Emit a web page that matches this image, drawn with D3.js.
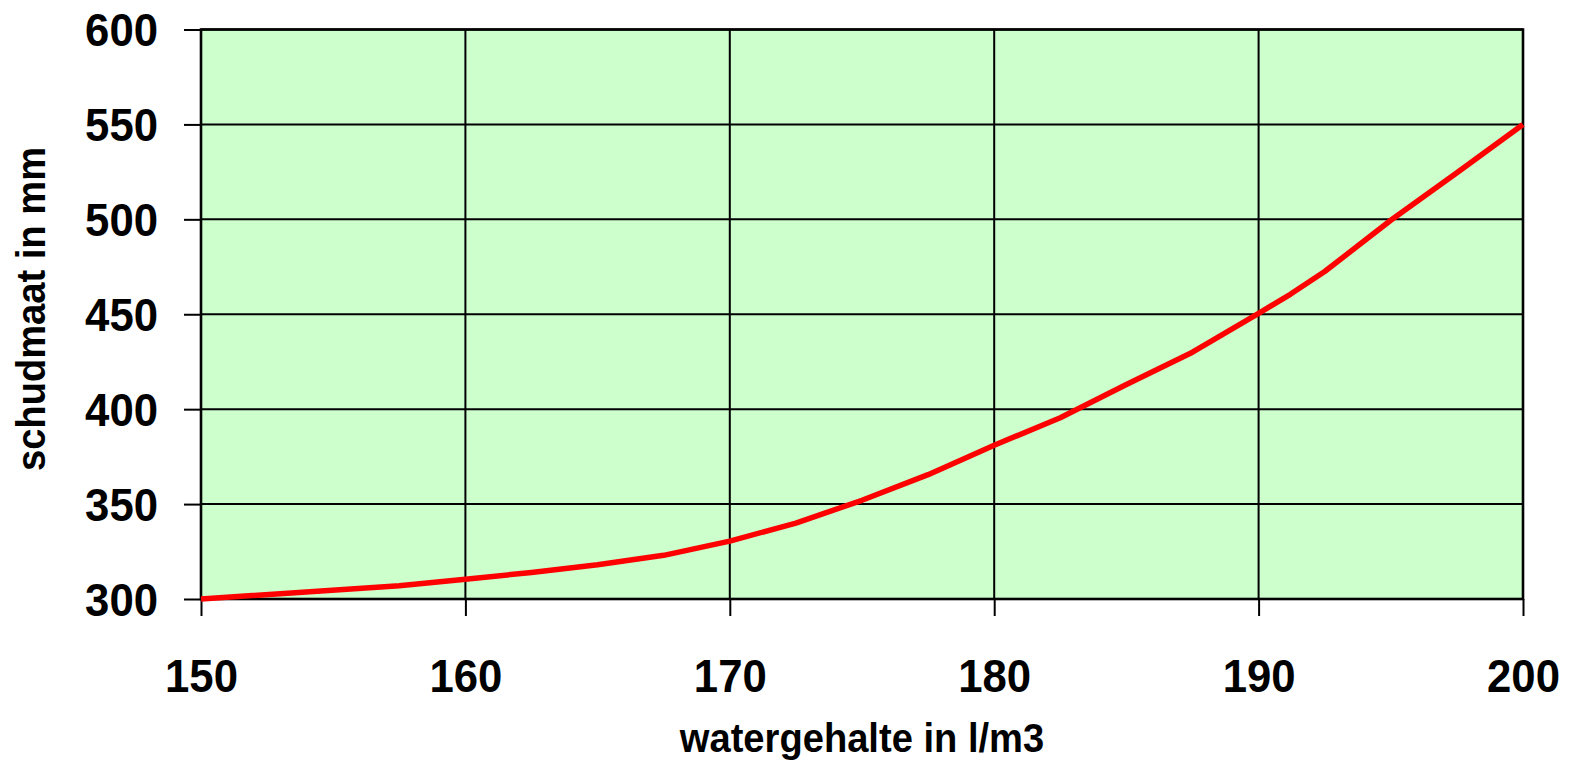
<!DOCTYPE html>
<html>
<head>
<meta charset="utf-8">
<script src="https://cdn.jsdelivr.net/npm/d3@7"></script>
<style>
  body { margin: 0; background: #fff; }
  text { font-family: 'Liberation Sans', Arial, sans-serif; font-weight: bold; fill: #000; }
</style>
</head>
<body>
<svg id="chart"></svg>
<script>
// watergehalte (l/m3) against schudmaat (mm)
const water = [150, 157.5, 160, 162.5, 165, 167.5, 170, 172.5, 175, 177.5, 180, 182.5, 185, 187.5, 190, 191.2, 192.5, 195, 197.5, 200];
const schud = [300, 307, 310.4, 314, 318, 323, 330.5, 340, 352, 365.5, 381, 395.5, 413, 430, 450.5, 460.5, 472.5, 499.5, 524.5, 550];
const xTicks = [150, 160, 170, 180, 190, 200];
const yTicks = [300, 350, 400, 450, 500, 550, 600];
const xTitle = 'watergehalte in l/m3';
const yTitle = 'schudmaat in mm';

const W = 1579, H = 767;
const padding = { top: 29.5, left: 201, right: 56, bottom: 168 };
const width = W - padding.left - padding.right;
const height = H - padding.top - padding.bottom;
const squeeze = 0.93; // labels in the original look slightly narrow

const svg = d3.select('#chart').attr('width', W).attr('height', H);
const g = svg.append('g').attr('transform', `translate(${padding.left},${padding.top})`);

const x = d3.scaleLinear().domain([150, 200]).range([0, width]);
const y = d3.scaleLinear().domain([300, 600]).range([height, 0]);

// plot background
g.append('rect')
  .attr('width', width)
  .attr('height', height)
  .attr('fill', '#ccffcc');

// grid
g.append('g')
  .selectAll('line')
  .data(yTicks)
  .join('line')
  .attr('x1', 0)
  .attr('x2', width)
  .attr('y1', (d) => y(d))
  .attr('y2', (d) => y(d))
  .attr('stroke', '#000')
  .attr('stroke-width', 2);

g.append('g')
  .selectAll('line')
  .data(xTicks)
  .join('line')
  .attr('x1', (d) => x(d))
  .attr('x2', (d) => x(d))
  .attr('y1', 0)
  .attr('y2', height)
  .attr('stroke', '#000')
  .attr('stroke-width', 2);

// frame
g.append('rect')
  .attr('width', width)
  .attr('height', height)
  .attr('fill', 'none')
  .attr('stroke', '#000')
  .attr('stroke-width', 2.6);

// axes
const yAxis = g.append('g')
  .call(d3.axisLeft(y).tickValues(yTicks).tickSize(17).tickPadding(26).tickFormat(d3.format('d')));
const xAxis = g.append('g')
  .attr('transform', `translate(0,${height})`)
  .call(d3.axisBottom(x).tickValues(xTicks).tickSize(17).tickPadding(26).tickFormat(d3.format('d')));

[yAxis, xAxis].forEach((ax) => {
  ax.select('.domain').remove();
  ax.selectAll('.tick line').attr('stroke', '#000').attr('stroke-width', 2);
  ax.selectAll('.tick text').attr('font-size', 47).attr('fill', '#000');
});

yAxis.selectAll('.tick text')
  .attr('x', null)
  .attr('dy', '0.35em')
  .attr('transform', `translate(-43,0) scale(${squeeze},1)`);

xAxis.selectAll('.tick text')
  .attr('y', null)
  .attr('dy', null)
  .attr('transform', `translate(0,93) scale(${squeeze},1)`);

// the curve
g.append('path')
  .datum(water.map((w, i) => [w, schud[i]]))
  .attr('fill', 'none')
  .attr('stroke', '#ff0000')
  .attr('stroke-width', 5.5)
  .attr('stroke-linejoin', 'round')
  .attr('d', d3.line().x((d) => x(d[0])).y((d) => y(d[1])));

// titles
svg.append('text')
  .attr('transform', `translate(${padding.left + width / 2},752) scale(${squeeze},1)`)
  .attr('text-anchor', 'middle')
  .attr('font-size', 41)
  .text(xTitle);

svg.append('text')
  .attr('transform', `translate(45,309) rotate(-90) scale(${squeeze},1)`)
  .attr('text-anchor', 'middle')
  .attr('font-size', 41)
  .text(yTitle);
</script>
</body>
</html>
